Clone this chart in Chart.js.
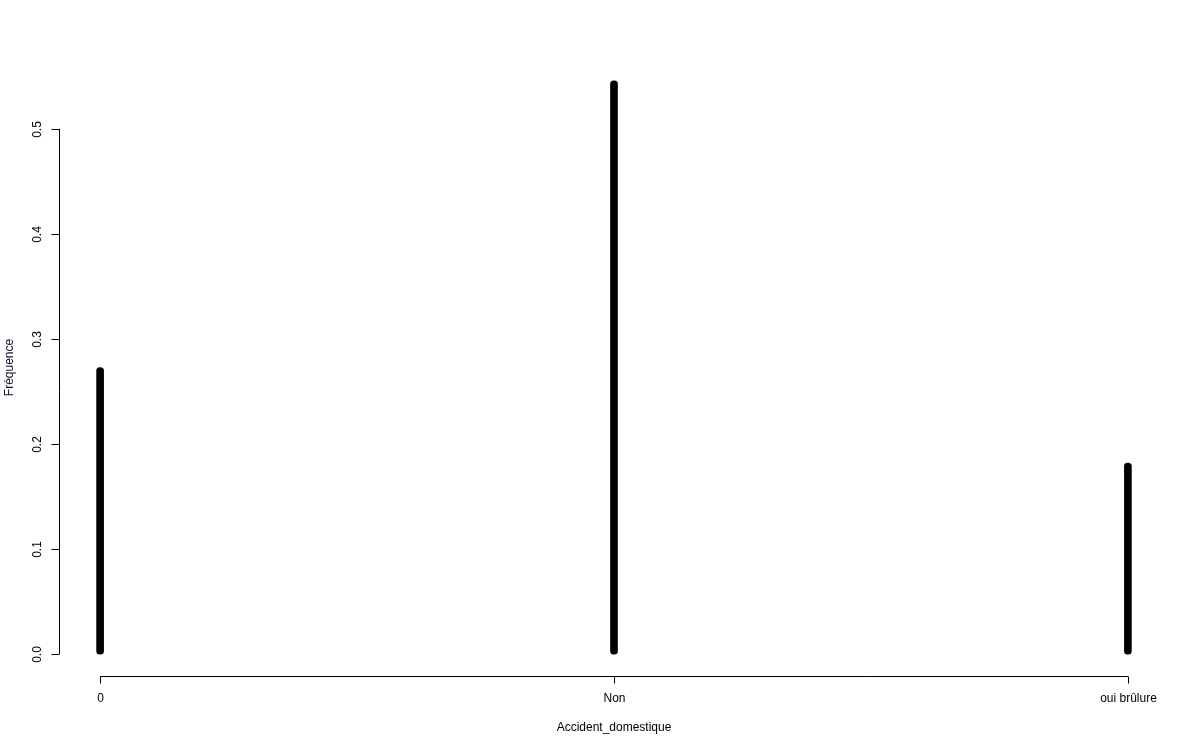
<!DOCTYPE html>
<html><head><meta charset="utf-8">
<script src="https://cdn.jsdelivr.net/npm/chart.js@4"></script>
<style>html,body{margin:0;padding:0;background:#fff;}#wrap{width:1200px;height:750px;}</style>
</head><body><div id="wrap"><canvas id="c" width="1200" height="750"></canvas></div>
<script>
const categories = ["0", "Non", "oui brûlure"];
const frequencies = [0.2727, 0.5455, 0.1818];
const yTicks = [0.0, 0.1, 0.2, 0.3, 0.4, 0.5];
const xTitle = "Accident_domestique";
const yTitle = "Fréquence";

const FONT = '12px "Liberation Sans", Arial, sans-serif';

const axesPlugin = {
  id: 'rAxes',
  afterDraw(chart) {
    const ctx = chart.ctx, xs = chart.scales.x, ys = chart.scales.y, ca = chart.chartArea;
    ctx.save();
    ctx.strokeStyle = '#000'; ctx.lineWidth = 1; ctx.fillStyle = '#000'; ctx.font = FONT;
    // y axis
    const yAxisX = Math.round(ca.left) + 0.5;
    const y0 = ys.getPixelForValue(yTicks[0]), y1 = ys.getPixelForValue(yTicks[yTicks.length-1]);
    ctx.beginPath(); ctx.moveTo(yAxisX, y0); ctx.lineTo(yAxisX, y1); ctx.stroke();
    yTicks.forEach(v => {
      const py = Math.round(ys.getPixelForValue(v)) + 0.5;
      ctx.beginPath(); ctx.moveTo(yAxisX, py); ctx.lineTo(yAxisX - 8, py); ctx.stroke();
      ctx.save(); ctx.translate(yAxisX - 22, py); ctx.rotate(-Math.PI/2);
      ctx.textAlign = 'center'; ctx.textBaseline = 'middle';
      ctx.fillText(v.toFixed(1), 0, 0); ctx.restore();
    });
    // x axis
    const xAxisY = Math.round(ca.bottom) - 0.5;
    const xa = xs.getPixelForValue(0), xb = xs.getPixelForValue(categories.length - 1);
    ctx.beginPath(); ctx.moveTo(xa, xAxisY); ctx.lineTo(xb, xAxisY); ctx.stroke();
    categories.forEach((c, i) => {
      const px = Math.round(xs.getPixelForValue(i)) + 0.5;
      ctx.beginPath(); ctx.moveTo(px, xAxisY); ctx.lineTo(px, xAxisY + 7); ctx.stroke();
      ctx.textAlign = 'center'; ctx.textBaseline = 'middle';
      ctx.fillText(c, px, xAxisY + 22);
    });
    // titles
    ctx.textAlign = 'center'; ctx.textBaseline = 'middle';
    ctx.fillText(xTitle, (ca.left + ca.right) / 2, ca.bottom + 51);
    ctx.save(); ctx.translate(10, (ca.top + ca.bottom) / 2); ctx.rotate(-Math.PI/2);
    ctx.fillStyle = '#1a0a2a';
    ctx.fillText(yTitle, 0, 0); ctx.restore();
    ctx.restore();
  }
};

const maxF = Math.max(...frequencies);
new Chart(document.getElementById('c'), {
  type: 'bar',
  data: {
    datasets: [{
      data: frequencies.map((f, i) => ({x: i, y: f})),
      backgroundColor: '#000',
      borderWidth: 0,
      barThickness: 7,
      borderRadius: 3.5,
      borderSkipped: false
    }]
  },
  options: {
    responsive: false,
    animation: false,
    events: [],
    layout: { padding: { left: 59, right: 31, top: 58, bottom: 73 } },
    plugins: { legend: { display: false }, tooltip: { enabled: false } },
    scales: {
      x: { type: 'linear', display: false, offset: false, min: -0.08, max: (categories.length - 1) + 0.08 },
      y: { type: 'linear', display: false, min: -0.04 * maxF, max: maxF * 1.04 }
    }
  },
  plugins: [axesPlugin]
});
</script></body></html>
